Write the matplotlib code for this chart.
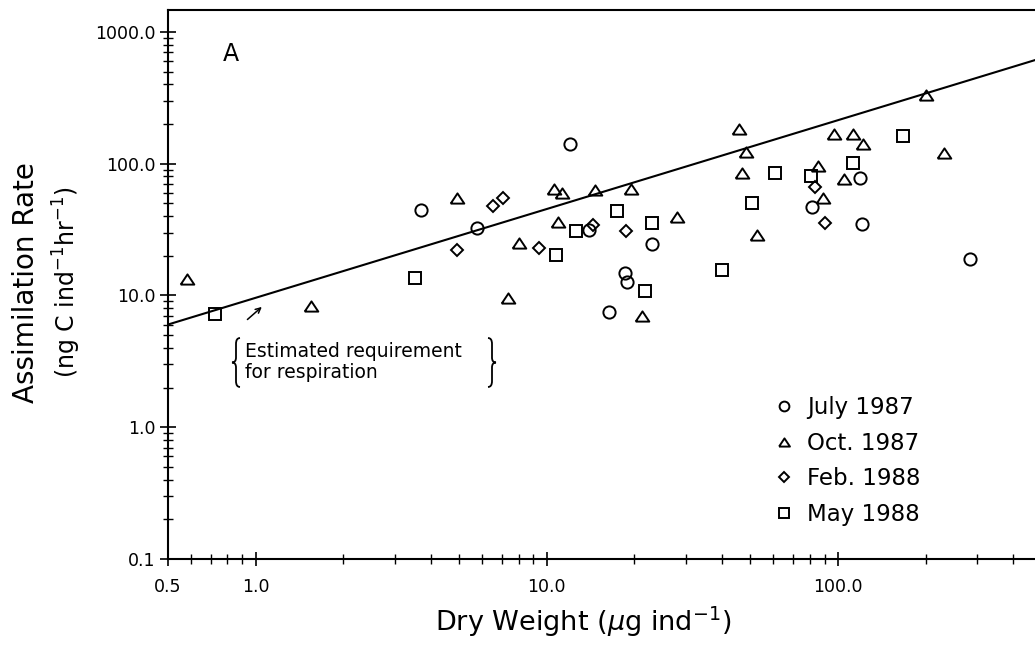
import numpy as np
import matplotlib
matplotlib.use("Agg")
import matplotlib.pyplot as plt
from matplotlib.path import Path
from matplotlib.patches import PathPatch
from matplotlib.ticker import FixedLocator, FixedFormatter, NullFormatter

plt.rcParams['font.family'] = ['DejaVu Sans']
plt.rcParams['mathtext.fontset'] = 'dejavusans'

# Dry weight (ug ind-1) and assimilation rate (ng C ind-1 hr-1) per sampling date
july_w = [3.7, 5.76, 12.0, 14.0, 16.4, 18.6, 18.9, 23.0, 81.2, 119, 121, 283]
july_r = [44.4, 32.6, 140, 31.3, 7.46, 14.9, 12.6, 24.4, 47.3, 78, 34.7, 18.9]

oct_w = [0.58, 1.55, 4.93, 7.34, 8.0, 10.6, 10.9, 11.3, 14.6, 19.5, 21.3, 27.9,
         45.8, 47.0, 48.3, 52.6, 85.3, 88.6, 97.1, 105, 113, 121.5, 200, 232]
oct_r = [13.3, 8.3, 54.5, 9.65, 25.2, 64.4, 36, 60, 62.9, 64, 7.0, 39.5,
         182, 85.2, 123, 28.7, 95.7, 55, 166.6, 75.9, 169.5, 139.9, 332, 121.6]

feb_w = [4.93, 6.51, 7.08, 9.41, 14.43, 18.68, 83.4, 90.2]
feb_r = [22.3, 47.6, 55, 22.8, 34.1, 30.7, 66.7, 35.2]

may_w = [0.727, 3.54, 10.73, 12.55, 17.36, 21.8, 23.0, 40.0, 50.8, 60.7, 80.7, 112.3, 166.8]
may_r = [7.2, 13.6, 20.2, 30.6, 43.4, 10.9, 35.2, 15.7, 49.9, 85.2, 80, 102, 162.5]

series_labels = ['July 1987', 'Oct. 1987', 'Feb. 1988', 'May 1988']

# respiration requirement: R = a * W^b
resp_a = 9.6
resp_b = 0.674

x_ticks = [0.5, 1.0, 10.0, 100.0]
x_tick_labels = ['0.5', '1.0', '10.0', '100.0']
y_ticks = [0.1, 1.0, 10.0, 100.0, 1000.0]
y_tick_labels = ['0.1', '1.0', '10.0', '100.0', '1000.0']

W, H = 1035, 646
fig = plt.figure(figsize=(W / 100, H / 100), dpi=100)


def fx(px):
    return px / W


def fy(py):
    return 1 - py / H


ax = fig.add_axes([fx(168), fy(559), 1 - fx(168), (559 - 9.5) / H])
ax.set_xscale('log')
ax.set_yscale('log')
ax.set_xlim(0.5, 475)
ax.set_ylim(0.1, 1480)

# respiration line across the full weight range
xl = np.logspace(np.log10(0.5), np.log10(475), 50)
ax.plot(xl, resp_a * xl ** resp_b, color='black', lw=1.5, zorder=2)

tri = [(-1, -0.75), (1, -0.75), (0, 0.75), (-1, -0.75)]
common = dict(ls='none', mfc='none', mec='black', mew=1.4, zorder=3)
h1, = ax.plot(july_w, july_r, marker='o', ms=8.8, label=series_labels[0], **common)
h2, = ax.plot(oct_w, oct_r, marker=tri, ms=9.8, label=series_labels[1], **common)
h3, = ax.plot(feb_w, feb_r, marker='D', ms=6.3, label=series_labels[2], **common)
h4, = ax.plot(may_w, may_r, marker='s', ms=8.6, label=series_labels[3], **common)

# axes styling
ax.spines['right'].set_visible(False)
for s in ('left', 'bottom', 'top'):
    ax.spines[s].set_linewidth(1.5)

ax.xaxis.set_major_locator(FixedLocator(x_ticks))
ax.xaxis.set_major_formatter(FixedFormatter(x_tick_labels))
ax.xaxis.set_minor_locator(FixedLocator(
    [m * 10.0 ** e for e in range(-1, 3) for m in range(2, 10)]))
ax.xaxis.set_minor_formatter(NullFormatter())
ax.yaxis.set_major_locator(FixedLocator(y_ticks))
ax.yaxis.set_major_formatter(FixedFormatter(y_tick_labels))
ax.yaxis.set_minor_locator(FixedLocator(
    [m * 10.0 ** e for e in range(-1, 4) for m in range(2, 10)]))
ax.yaxis.set_minor_formatter(NullFormatter())

ax.tick_params(axis='x', which='major', direction='inout', length=10, width=1.2,
               labelsize=12.5, pad=9, top=False)
ax.tick_params(axis='x', which='minor', direction='inout', length=6.5, width=1.0, top=False)
ax.tick_params(axis='y', which='major', direction='inout', length=12, width=1.2,
               labelsize=12.5, pad=3, right=False)
ax.tick_params(axis='y', which='minor', direction='inout', length=7.5, width=1.0, right=False)

# axis titles
fig.text(fx(26), fy(283), 'Assimilation Rate', rotation=90, fontsize=20,
         ha='center', va='center')
fig.text(fx(67), fy(282), r'(ng C ind$^{-1}$hr$^{-1}$)', rotation=90, fontsize=17,
         ha='center', va='center')
fig.text(fx(583), fy(622), r'Dry Weight ($\mu$g ind$^{-1}$)', fontsize=19.5,
         ha='center', va='center')

# panel letter
fig.text(fx(231), fy(54), 'A', fontsize=17, ha='center', va='center')

# legend
ax.legend(handles=[h1, h2, h3, h4], loc='upper left',
          bbox_to_anchor=(fx(774), fy(396)), bbox_transform=fig.transFigure,
          frameon=False, fontsize=16.5, markerscale=0.8, handlelength=0.85,
          handletextpad=0.6, labelspacing=0.55, borderpad=0, borderaxespad=0)

# respiration note with arrow and braces
ax.annotate('', xy=(1.05, 8.19), xytext=(0.937, 6.57),
            arrowprops=dict(arrowstyle='->', lw=1.1, color='black',
                            mutation_scale=9, shrinkA=0, shrinkB=0))
fig.text(fx(245), fy(357), 'Estimated requirement', fontsize=13.5, va='baseline', ha='left')
fig.text(fx(245), fy(378), 'for respiration', fontsize=13.5, va='baseline', ha='left')


def brace(x0, x1, ytop, ybot, facing_left=True):
    # curly brace between pixel columns x0..x1 and rows ytop..ybot
    xm = (x0 + x1) / 2
    tip, back = (x0, x1) if facing_left else (x1, x0)
    ym = (ytop + ybot) / 2
    h = ybot - ytop
    pts = [(back, ytop), (xm, ytop), (xm, ytop + 0.12 * h),
           (xm, ym - 0.1 * h),
           (xm, ym), (tip, ym),
           (xm, ym), (xm, ym + 0.1 * h),
           (xm, ybot - 0.12 * h),
           (xm, ybot), (back, ybot)]
    codes = [Path.MOVETO, Path.CURVE3, Path.CURVE3, Path.LINETO,
             Path.CURVE3, Path.CURVE3, Path.CURVE3, Path.CURVE3,
             Path.LINETO, Path.CURVE3, Path.CURVE3]
    verts = [(fx(px), fy(py)) for px, py in pts]
    fig.patches.append(PathPatch(Path(verts, codes), transform=fig.transFigure,
                                 fill=False, lw=1.3, color='black'))


brace(232, 240, 338, 387, facing_left=True)
brace(488, 496, 338, 387, facing_left=False)

fig.savefig('out.png', dpi=100)
